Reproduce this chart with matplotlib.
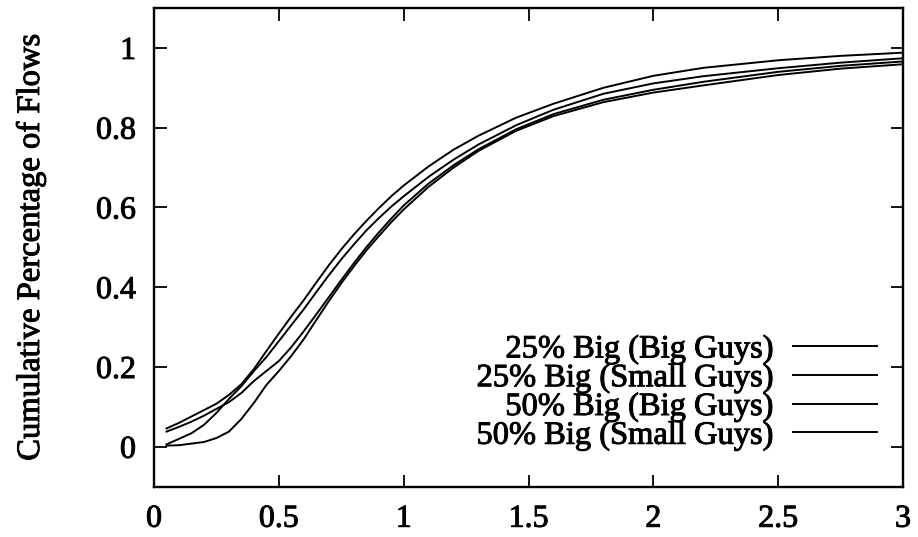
import matplotlib
matplotlib.use("Agg")
import matplotlib.pyplot as plt
import matplotlib.patheffects as pe

# shared x grid
xs = [0.05, 0.1, 0.15, 0.2, 0.25, 0.3, 0.35, 0.4, 0.45, 0.5, 0.55, 0.6, 0.65, 0.7,
      0.75, 0.8, 0.85, 0.9, 0.95, 1.0, 1.1, 1.2, 1.3, 1.45, 1.6, 1.8, 2.0, 2.2,
      2.5, 2.75, 3.0]

big25_big = [0.046, 0.060, 0.076, 0.092, 0.108, 0.130, 0.157, 0.195, 0.240, 0.284,
             0.327, 0.368, 0.412, 0.455, 0.495, 0.532, 0.566, 0.598, 0.628, 0.655,
             0.703, 0.745, 0.780, 0.825, 0.860, 0.900, 0.930, 0.950, 0.969, 0.980,
             0.988]
big25_small = [0.006, 0.020, 0.034, 0.055, 0.085, 0.120, 0.152, 0.190, 0.225, 0.265,
               0.305, 0.345, 0.388, 0.430, 0.470, 0.507, 0.542, 0.573, 0.602, 0.628,
               0.677, 0.720, 0.758, 0.806, 0.845, 0.885, 0.911, 0.929, 0.949, 0.963,
               0.974]
big50_big = [0.038, 0.050, 0.063, 0.078, 0.095, 0.112, 0.135, 0.165, 0.190, 0.215,
             0.250, 0.290, 0.332, 0.375, 0.418, 0.460, 0.500, 0.537, 0.572, 0.605,
             0.660, 0.706, 0.746, 0.796, 0.834, 0.870, 0.895, 0.915, 0.940, 0.955,
             0.966]
big50_small = [0.003, 0.004, 0.008, 0.012, 0.022, 0.038, 0.070, 0.110, 0.155, 0.190,
               0.228, 0.270, 0.318, 0.365, 0.410, 0.452, 0.492, 0.528, 0.563, 0.595,
               0.652, 0.700, 0.742, 0.792, 0.829, 0.864, 0.888, 0.906, 0.932, 0.948,
               0.959]

labels = ["25% Big (Big Guys)", "25% Big (Small Guys)",
          "50% Big (Big Guys)", "50% Big (Small Guys)"]
series = [big25_big, big25_small, big50_big, big50_small]

xticks = [0, 0.5, 1, 1.5, 2, 2.5, 3]
xticklabels = ["0", "0.5", "1", "1.5", "2", "2.5", "3"]
yticks = [0, 0.2, 0.4, 0.6, 0.8, 1]
yticklabels = ["0", "0.2", "0.4", "0.6", "0.8", "1"]

plt.rcParams["font.family"] = ["Liberation Serif", "DejaVu Serif"]

fig = plt.figure(figsize=(9.18, 5.37), dpi=100)
ax = fig.add_axes([0.1678, 0.0937, 0.8159, 0.8914])

for ys, lab in zip(series, labels):
    ax.plot(xs, ys, color="black", linewidth=1.4, label=lab)

ax.set_xlim(0, 3)
ax.set_ylim(-0.1, 1.1)
ax.set_xticks(xticks)
ax.set_xticklabels(xticklabels)
ax.set_yticks(yticks)
ax.set_yticklabels(yticklabels)
ax.tick_params(direction="in", length=9, width=1.3, top=True, right=True,
               labelsize=23)
ax.tick_params(axis="x", pad=13)
ax.tick_params(axis="y", pad=13)
for sp in ax.spines.values():
    sp.set_linewidth(1.7)

ylab = ax.set_ylabel("Cumulative Percentage of Flows", fontsize=23.5, labelpad=36)

leg = ax.legend(loc="lower right", markerfirst=False, frameon=False, fontsize=23.4,
                handlelength=2.6, handletextpad=0.58, labelspacing=-0.03,
                borderpad=0, borderaxespad=0, bbox_to_anchor=(0.9653, 0.075))

# scanned print looks heavier: thicken the glyphs a bit
thick = [pe.withStroke(linewidth=0.7, foreground="black")]
for t in ax.get_xticklabels() + ax.get_yticklabels() + leg.get_texts() + [ylab]:
    t.set_path_effects(thick)

fig.savefig("out.png", dpi=100)
